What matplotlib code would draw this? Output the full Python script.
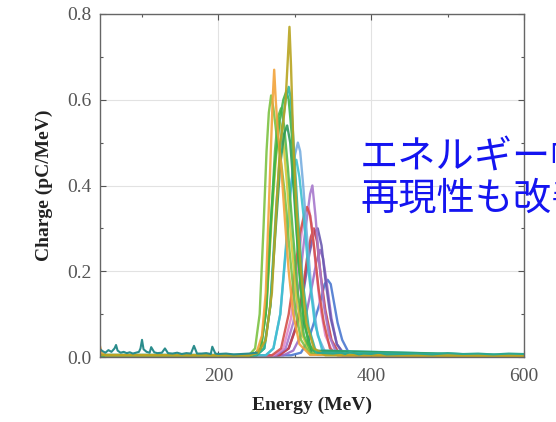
import matplotlib
matplotlib.use("Agg")
import matplotlib.pyplot as plt
from matplotlib.ticker import MultipleLocator

# ---------------- data ----------------
x_ticks = [200, 400, 600]
y_ticks = [0.0, 0.2, 0.4, 0.6, 0.8]
y_tick_labels = ["0.0", "0.2", "0.4", "0.6", "0.8"]

blue_E = [40, 295, 308, 318, 325, 330, 335, 339, 343, 347, 351, 356, 362, 370, 380, 600]
blue_Q = [0.004, 0.004, 0.01, 0.04, 0.08, 0.11, 0.14, 0.17, 0.18, 0.17, 0.13, 0.08, 0.04, 0.012, 0.004, 0.003]

violet_E = [40, 285, 298, 308, 316, 323, 328, 333, 337, 342, 348, 355, 364, 600]
violet_Q = [0.004, 0.004, 0.015, 0.05, 0.11, 0.17, 0.22, 0.25, 0.23, 0.17, 0.09, 0.03, 0.006, 0.003]

purple_E = [40, 275, 288, 298, 306, 312, 317, 320, 323, 327, 332, 338, 345, 353, 362, 600]
purple_Q = [0.004, 0.004, 0.02, 0.08, 0.17, 0.27, 0.34, 0.38, 0.40, 0.33, 0.22, 0.12, 0.05, 0.015, 0.004, 0.003]

pink_E = [40, 272, 285, 295, 303, 309, 314, 318, 322, 327, 333, 340, 350, 600]
pink_Q = [0.004, 0.004, 0.02, 0.09, 0.20, 0.29, 0.34, 0.35, 0.31, 0.22, 0.12, 0.05, 0.01, 0.003]

red_E = [40, 270, 282, 292, 300, 307, 312, 316, 320, 325, 331, 338, 346, 356, 600]
red_Q = [0.004, 0.004, 0.02, 0.10, 0.20, 0.29, 0.33, 0.35, 0.33, 0.26, 0.16, 0.08, 0.02, 0.004, 0.003]

red2_E = [40, 280, 292, 302, 310, 316, 321, 325, 329, 334, 340, 348, 358, 600]
red2_Q = [0.004, 0.004, 0.02, 0.07, 0.15, 0.23, 0.28, 0.30, 0.27, 0.19, 0.11, 0.04, 0.008, 0.003]

indigo_E = [40, 278, 292, 303, 312, 319, 325, 330, 335, 340, 347, 355, 365, 600]
indigo_Q = [0.004, 0.004, 0.02, 0.08, 0.16, 0.24, 0.29, 0.30, 0.26, 0.18, 0.09, 0.03, 0.006, 0.003]

lightblue_E = [40, 262, 272, 281, 289, 295, 300, 304, 307, 311, 316, 322, 330, 340, 600]
lightblue_Q = [0.004, 0.004, 0.02, 0.10, 0.26, 0.40, 0.47, 0.50, 0.48, 0.40, 0.28, 0.15, 0.05, 0.01, 0.003]

cyan_E = [40, 262, 272, 281, 288, 294, 298, 302, 306, 312, 318, 326, 336, 600]
cyan_Q = [0.004, 0.004, 0.02, 0.10, 0.25, 0.38, 0.44, 0.46, 0.42, 0.32, 0.20, 0.08, 0.015, 0.003]

yellow_E = [40, 245, 255, 263, 270, 276, 280, 284, 289, 295, 302, 310, 320, 600]
yellow_Q = [0.004, 0.004, 0.02, 0.12, 0.33, 0.48, 0.55, 0.52, 0.42, 0.28, 0.14, 0.05, 0.01, 0.003]

lime_E = [40, 240, 248, 254, 259, 263, 266, 269, 272, 276, 281, 287, 293, 300, 308, 320, 600]
lime_Q = [0.004, 0.004, 0.02, 0.10, 0.30, 0.48, 0.57, 0.61, 0.58, 0.52, 0.47, 0.38, 0.25, 0.12, 0.04, 0.006, 0.003]

green2_E = [40, 246, 256, 263, 269, 274, 278, 282, 286, 291, 297, 304, 312, 322, 600]
green2_Q = [0.004, 0.004, 0.02, 0.12, 0.32, 0.48, 0.56, 0.58, 0.54, 0.44, 0.30, 0.15, 0.05, 0.008, 0.003]

green_E = [40, 245, 255, 262, 268, 274, 280, 285, 289, 292, 296, 300, 305, 311, 318, 330, 600]
green_Q = [0.004, 0.004, 0.02, 0.10, 0.30, 0.45, 0.55, 0.60, 0.62, 0.60, 0.52, 0.38, 0.22, 0.10, 0.03, 0.005, 0.003]

darkgreen_E = [40, 250, 260, 268, 275, 281, 286, 290, 294, 299, 305, 312, 322, 600]
darkgreen_Q = [0.004, 0.004, 0.02, 0.12, 0.30, 0.45, 0.52, 0.54, 0.50, 0.38, 0.22, 0.08, 0.015, 0.003]

teal_E = [40, 250, 260, 268, 276, 283, 288, 292, 295, 299, 304, 310, 318, 328, 600]
teal_Q = [0.005, 0.005, 0.02, 0.12, 0.36, 0.53, 0.60, 0.63, 0.60, 0.48, 0.33, 0.18, 0.07, 0.01, 0.004]

orange_E = [40, 43, 47, 52, 240, 250, 257, 262, 266, 269, 271, 273, 275, 278, 282, 287, 292, 298, 306, 320, 600]
orange_Q = [0.02, 0.04, 0.01, 0.004, 0.004, 0.01, 0.05, 0.15, 0.35, 0.50, 0.60, 0.67, 0.60, 0.52, 0.45, 0.32, 0.20, 0.10, 0.03, 0.005, 0.003]

olive_E = [40, 240, 252, 262, 270, 276, 281, 285, 288, 291, 293, 295, 298, 302, 308, 315, 325, 340, 600]
olive_Q = [0.005, 0.004, 0.01, 0.04, 0.15, 0.35, 0.50, 0.55, 0.60, 0.70, 0.77, 0.68, 0.50, 0.35, 0.20, 0.08, 0.02, 0.004, 0.003]

noise_E = [40, 44, 48, 52, 56, 60, 64, 66, 68, 72, 76, 80, 84, 88, 92, 96, 98, 100, 102,
           106, 110, 112, 116, 120, 126, 130, 134, 140, 146, 152, 158, 164, 168, 172,
           178, 184, 190, 192, 196, 200, 210, 220, 230, 240, 250]
noise_Q = [0.012, 0.02, 0.014, 0.01, 0.016, 0.012, 0.02, 0.028, 0.015, 0.01, 0.012, 0.009, 0.011, 0.008, 0.01, 0.012, 0.02, 0.04, 0.018,
           0.012, 0.01, 0.023, 0.011, 0.009, 0.01, 0.02, 0.009, 0.008, 0.01, 0.007, 0.009, 0.008, 0.026, 0.008,
           0.008, 0.009, 0.007, 0.024, 0.008, 0.007, 0.008, 0.006, 0.007, 0.008, 0.01]

tail_E = [330, 340, 350, 360, 366, 372, 378, 384, 390, 400, 410, 420, 440, 460, 480, 500, 520, 540, 560, 580, 600]
tail_Q = [0.01, 0.009, 0.008, 0.01, 0.007, 0.012, 0.009, 0.006, 0.008, 0.007, 0.01, 0.006, 0.007, 0.008, 0.006, 0.009, 0.007, 0.008, 0.006, 0.008, 0.007]

series = [
    (blue_E, blue_Q, "#4A78D0"),
    (violet_E, violet_Q, "#9C6CC8"),
    (indigo_E, indigo_Q, "#6A5AB0"),
    (red2_E, red2_Q, "#C8404A"),
    (purple_E, purple_Q, "#A678CC"),
    (pink_E, pink_Q, "#E08ACB"),
    (red_E, red_Q, "#D4504A"),
    (lightblue_E, lightblue_Q, "#78AEE0"),
    (cyan_E, cyan_Q, "#3CC0D0"),
    (yellow_E, yellow_Q, "#D8C83A"),
    (lime_E, lime_Q, "#7CC242"),
    (green2_E, green2_Q, "#58B848"),
    (darkgreen_E, darkgreen_Q, "#2E9A5A"),
    (green_E, green_Q, "#3DB54A"),
    (teal_E, teal_Q, "#2EB5A0"),
    (orange_E, orange_Q, "#F2A33A"),
    (olive_E, olive_Q, "#B8A420"),
]

# ---------------- figure ----------------
fig = plt.figure(figsize=(5.56, 4.22), dpi=100)
fig.patch.set_facecolor("white")
ax = fig.add_axes([100 / 556, 1 - 357 / 422, 424 / 556, 343 / 422])

for E, Q, c in series:
    ax.plot(E, Q, color=c, lw=1.7, alpha=0.9)
ax.plot(tail_E, tail_Q, color="#2EA890", lw=1.5)
ax.plot(noise_E, noise_Q, color="#2A8C8C", lw=1.5)

ax.set_xlim(45, 600)
ax.set_ylim(0, 0.8)
ax.set_xticks(x_ticks)
ax.set_yticks(y_ticks)
ax.set_yticklabels(y_tick_labels)
ax.xaxis.set_minor_locator(MultipleLocator(100))
ax.yaxis.set_minor_locator(MultipleLocator(0.1))
ax.grid(True, which="major", color="#E2E2E2", lw=0.8)
ax.set_axisbelow(True)
ax.tick_params(which="both", direction="in", top=True, right=True, colors="#555555",
               labelcolor="#555555")
ax.tick_params(which="major", length=4, width=0.8)
ax.tick_params(which="minor", length=2.5, width=0.8)
ax.tick_params(axis="x", pad=8)
ax.tick_params(axis="y", pad=6)
for lab in ax.get_xticklabels() + ax.get_yticklabels():
    lab.set_fontfamily("Liberation Serif")
    lab.set_fontsize(14)
for sp in ax.spines.values():
    sp.set_color("#666666")
    sp.set_linewidth(1.0)

ax.set_xlabel("Energy (MeV)", fontfamily="Liberation Serif", fontweight="bold",
              fontsize=14, color="#222222", labelpad=8)
ax.set_ylabel("Charge (pC/MeV)", fontfamily="Liberation Serif", fontweight="bold",
              fontsize=14, color="#222222", labelpad=10)

fig.text(360 / 556, 1 - 157 / 422, "エネルギー幅が縮小", color="#1414F0",
         fontsize=27.5, family=["Noto Sans CJK JP", "DejaVu Sans"], ha="left", va="center")
fig.text(360 / 556, 1 - 199 / 422, "再現性も改善", color="#1414F0",
         fontsize=27.5, family=["Noto Sans CJK JP", "DejaVu Sans"], ha="left", va="center")

fig.savefig("out.png", dpi=100)
